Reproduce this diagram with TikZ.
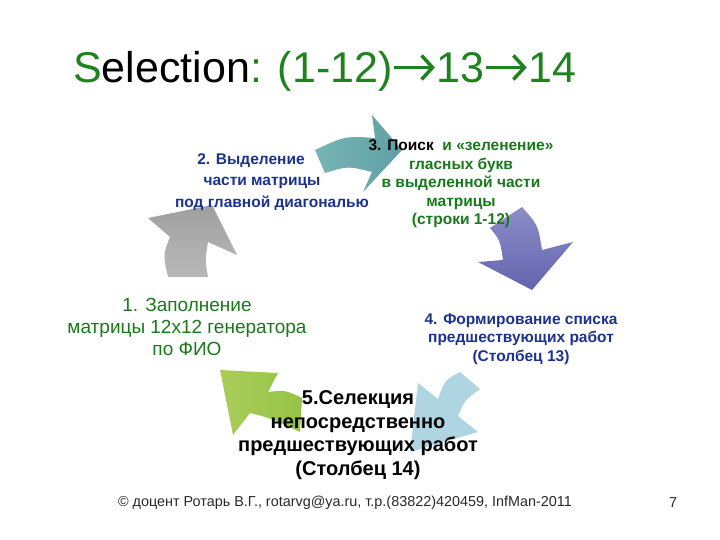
\documentclass[tikz,border=0pt]{standalone}
\usepackage{fontspec}
\setmainfont{Liberation Sans}
\usetikzlibrary{positioning, arrows.meta}

\definecolor{ttlgreen}{RGB}{30,130,30}
\definecolor{txtgreen}{RGB}{25,120,25}
\definecolor{txtblue}{RGB}{28,50,140}
\definecolor{footgray}{RGB}{40,40,40}

\newcommand{\ttlarrow}{\tikz[baseline=0pt]\draw[ttlgreen, line width=3.5pt, -{Straight Barb[length=11pt, width=24pt]}] (0pt,15.5pt) -- (40.5pt,15.5pt);}

\begin{document}
\begin{tikzpicture}[x=1pt, y=-1pt]
				\tikzstyle{arr} = [draw=none]
				\tikzstyle{steptxt} = [align=center, inner sep=0pt]
				\tikzstyle{bluetxt} = [steptxt, text=txtblue, font=\bfseries\fontsize{15.5}{18.5}\selectfont]
				\tikzstyle{greentxt} = [steptxt, text=txtgreen, font=\bfseries\fontsize{15.5}{18.5}\selectfont]
				
				\useasboundingbox (0,0) rectangle (720,540);
				
				% cycle arrows
				\shade[arr, top color=gray!75, bottom color=gray!55]
				(168,277) .. controls (163,255) .. (170,237) -- (148,218) -- (212,205) -- (237,255) -- (208,242) .. controls (205,260) .. (208,277) -- cycle;
				\shade[arr, left color={rgb,255:red,120;green,180;blue,180}, right color={rgb,255:red,95;green,160;blue,165}]
				(315,150) .. controls (345,136) .. (375,138) -- (372,115) -- (402,150) -- (363,192) -- (372,172) .. controls (348,166) .. (325,173) -- cycle;
				\shade[arr, top color={rgb,255:red,140;green,140;blue,200}, bottom color={rgb,255:red,100;green,100;blue,175}]
				(490,228) .. controls (500,240) .. (503,260) -- (478,262) -- (532,290) -- (573,242) -- (542,250) .. controls (538,225) .. (522,207) -- cycle;
				\fill[arr, fill={rgb,255:red,175;green,212;blue,226}]
				(460,372) .. controls (445,380) .. (438,399) -- (418,383) -- (410,452) -- (478,432) -- (458,416) .. controls (465,400) .. (480,389) -- cycle;
				\shade[arr, left color={rgb,255:red,170;green,205;blue,90}, right color={rgb,255:red,150;green,195;blue,70}]
				(220,370) -- (278,373) -- (268,392) .. controls (285,390) .. (302,398) -- (300,432) .. controls (270,418) .. (250,413) -- (233,435) -- cycle;
				
				% title
				\node[anchor=base west, inner sep=0pt, font=\fontsize{43}{50}\selectfont] at (73,83) (title)
				{\textcolor{ttlgreen}{S}election\textcolor{ttlgreen}{: (1-12)\ttlarrow 13\ttlarrow 14}};
				
				% steps
				\node[steptxt, text=txtgreen, font=\fontsize{19}{22}\selectfont] at (187,327) (t1)
				{1. Заполнение\\матрицы 12х12 генератора\\по ФИО};
				\node[bluetxt, font=\bfseries\fontsize{15.5}{21.5}\selectfont] at (262,182) (t2)
				{2. Выделение\hspace*{22pt}\\части матрицы\hspace*{14pt}\\\hspace*{20pt}под главной диагональю};
				\node[greentxt] at (461,184) (t3)
				{\textcolor{black}{3. Поиск}\ \ и «зеленение»\\гласных букв\\в выделенной части\\матрицы\\(строки 1-12)};
				\node[bluetxt] at (521,339) (t4)
				{4. Формирование списка\\предшествующих работ\\(Столбец 13)};
				\node[steptxt, font=\bfseries\fontsize{20}{23.5}\selectfont] at (358,435) (t5)
				{5.Селекция\\непосредственно\\предшествующих работ\\(Столбец 14)};
				
				% footer
				\node[inner sep=0pt, text=footgray, font=\fontsize{14.4}{16}\selectfont] at (345,503) (foot)
				{© доцент Ротарь В.Г., rotarvg@ya.ru, т.р.(83822)420459, InfMan-2011};
				\node[inner sep=0pt, text=footgray, font=\fontsize{14.4}{16}\selectfont] at (673,503) (page) {7};
\end{tikzpicture}
\end{document}
